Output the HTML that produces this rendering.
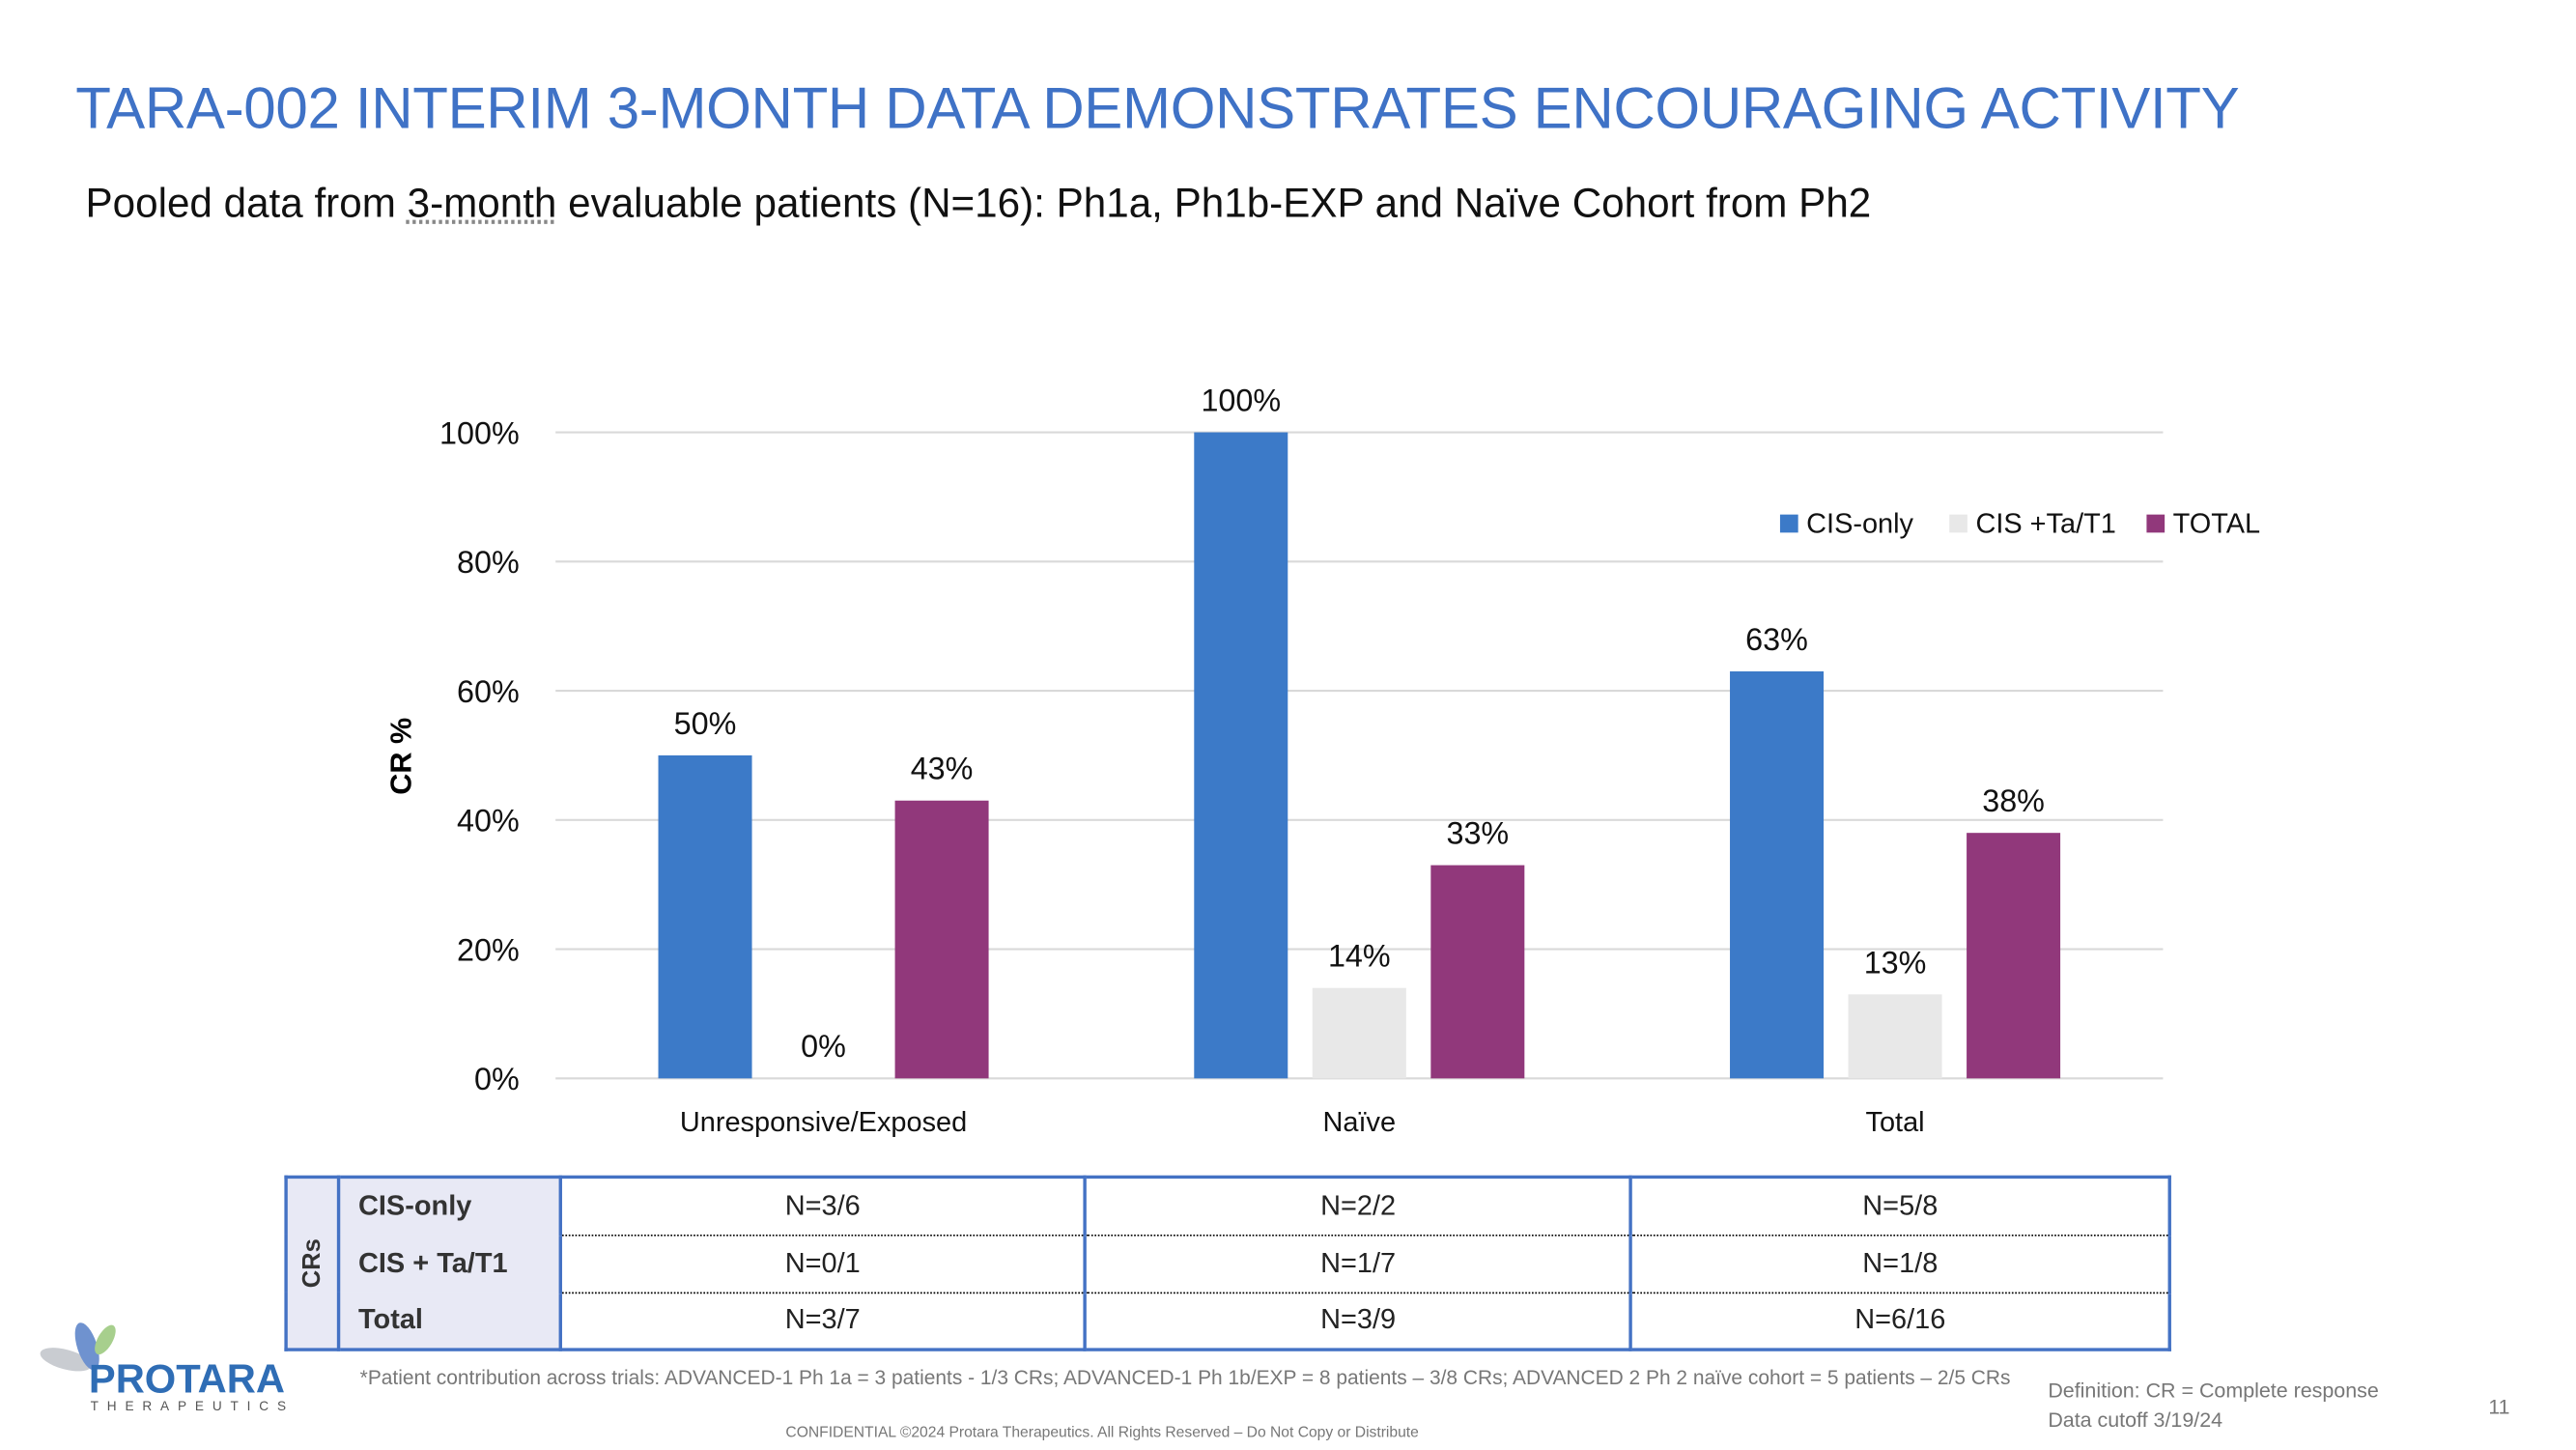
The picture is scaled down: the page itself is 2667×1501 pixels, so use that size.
<!DOCTYPE html>
<html><head><meta charset="utf-8">
<style>
html,body{margin:0;padding:0;background:#fff;}
body{width:2667px;height:1500px;overflow:hidden;position:relative;font-family:"Liberation Sans",sans-serif;}
#stage{position:absolute;left:0;top:0;width:1568px;height:882px;transform:scale(1.7017);transform-origin:0 0;}
.abs{position:absolute;white-space:nowrap;}
table{border-collapse:collapse;}
</style></head>
<body>
<div id="stage">
  <div class="abs" style="left:46px;top:47px;font-size:35.3px;color:#3f72c6;letter-spacing:-0.2px;">TARA-002 INTERIM 3-MONTH DATA DEMONSTRATES ENCOURAGING ACTIVITY</div>
  <div class="abs" style="left:52px;top:111px;font-size:24.8px;color:#111;">Pooled data from <span style="text-decoration:underline;text-decoration-style:dotted;text-decoration-color:#888;">3-month</span> evaluable patients (N=16): Ph1a, Ph1b-EXP and Naïve Cohort from Ph2</div>

  <svg id="chart" width="1568" height="882" style="position:absolute;left:0;top:0;" font-family="Liberation Sans, sans-serif"></svg>

  <table style="position:absolute;left:173px;top:715px;width:1148px;height:106px;font-size:17px;color:#222;">
    <colgroup><col style="width:30px"><col style="width:135px"><col style="width:321px"><col style="width:333px"><col style="width:329px"></colgroup>
    <tr style="height:35px">
      <td rowspan="3" style="background:#e8e9f5;border:2px solid #4472c4;padding:0;text-align:center;"><div style="transform:rotate(-90deg);font-weight:bold;font-size:15px;color:#333;">CRs</div></td>
      <td style="background:#e8e9f5;border-top:2px solid #4472c4;border-right:2px solid #4472c4;padding-left:11px;font-weight:bold;color:#333;">CIS-only</td>
      <td style="text-align:center;border-top:2px solid #4472c4;border-right:2px solid #4472c4;border-bottom:1px dotted #000;">N=3/6</td>
      <td style="text-align:center;border-top:2px solid #4472c4;border-right:2px solid #4472c4;border-bottom:1px dotted #000;">N=2/2</td>
      <td style="text-align:center;border-top:2px solid #4472c4;border-right:2px solid #4472c4;border-bottom:1px dotted #000;">N=5/8</td>
    </tr>
    <tr style="height:35px">
      <td style="background:#e8e9f5;border-right:2px solid #4472c4;padding-left:11px;font-weight:bold;color:#333;">CIS + Ta/T1</td>
      <td style="text-align:center;border-right:2px solid #4472c4;border-bottom:1px dotted #000;">N=0/1</td>
      <td style="text-align:center;border-right:2px solid #4472c4;border-bottom:1px dotted #000;">N=1/7</td>
      <td style="text-align:center;border-right:2px solid #4472c4;border-bottom:1px dotted #000;">N=1/8</td>
    </tr>
    <tr style="height:35px">
      <td style="background:#e8e9f5;border-right:2px solid #4472c4;border-bottom:2px solid #4472c4;padding-left:11px;font-weight:bold;color:#333;">Total</td>
      <td style="text-align:center;border-right:2px solid #4472c4;border-bottom:2px solid #4472c4;">N=3/7</td>
      <td style="text-align:center;border-right:2px solid #4472c4;border-bottom:2px solid #4472c4;">N=3/9</td>
      <td style="text-align:center;border-right:2px solid #4472c4;border-bottom:2px solid #4472c4;">N=6/16</td>
    </tr>
  </table>

  <div class="abs" style="left:219px;top:831px;font-size:12.3px;color:#777;">*Patient contribution across trials: ADVANCED-1 Ph 1a = 3 patients - 1/3 CRs; ADVANCED-1 Ph 1b/EXP = 8 patients – 3/8 CRs; ADVANCED 2 Ph 2 naïve cohort = 5 patients – 2/5 CRs</div>
  <div class="abs" style="left:1246px;top:839px;font-size:12.6px;color:#777;">Definition: CR = Complete response</div>
  <div class="abs" style="left:1246px;top:857px;font-size:12.6px;color:#777;">Data cutoff 3/19/24</div>
  <div class="abs" style="left:1514px;top:849px;font-size:12.5px;color:#777;">11</div>
  <div class="abs" style="left:478px;top:866px;font-size:9.2px;color:#777;">CONFIDENTIAL ©2024 Protara Therapeutics. All Rights Reserved – Do Not Copy or Distribute</div>

  <div style="position:absolute;left:22px;top:803px;width:160px;height:60px;">
    <svg width="60" height="38" style="position:absolute;left:0;top:0;">
      <ellipse cx="18" cy="24" rx="16" ry="6" fill="#c9ccd1" transform="rotate(15 18 24)"/>
      <ellipse cx="31" cy="16" rx="6" ry="15" fill="#6f92cf" transform="rotate(-18 31 16)"/>
      <ellipse cx="42" cy="12" rx="4.5" ry="10" fill="#a7cf8d" transform="rotate(30 42 12)"/>
    </svg>
    <div class="abs" style="left:32px;top:23px;font-size:24.5px;color:#2f6db5;font-weight:bold;">PROTARA</div>
    <div class="abs" style="left:33px;top:48px;font-size:8px;color:#555;letter-spacing:5.2px;">THERAPEUTICS</div>
  </div>
</div>

<script>
const categories = ["Unresponsive/Exposed", "Naïve", "Total"];
const seriesNames = ["CIS-only", "CIS +Ta/T1", "TOTAL"];
const cisOnly = [50, 100, 63];
const cisTaT1 = [0, 14, 13];
const totalSeries = [43, 33, 38];
const yTicks = [0, 20, 40, 60, 80, 100];

const NS = "http://www.w3.org/2000/svg";
const svg = document.getElementById("chart");
const colors = ["#3c7ac8", "#e8e8e8", "#91387b"];
const plotL = 338, plotR = 1316, y0 = 656, y100 = 263;
function yScale(v){ return y0 - (v/100)*(y0 - y100); }
const groupW = (plotR - plotL) / categories.length;
function xCenter(i){ return plotL + groupW*(i+0.5); }
const barW = 57, barStep = 72;

function mk(tag, attrs){ const e = document.createElementNS(NS, tag); for (const k in attrs) e.setAttribute(k, attrs[k]); svg.appendChild(e); return e; }

yTicks.forEach(t => {
  const g = mk("line", {x1: plotL, x2: plotR, y1: yScale(t), y2: yScale(t), stroke: "#d9d9d9", "stroke-width": 1.2});
  
  
  const l = mk("text", {x: 316, y: yScale(t) + 7, "text-anchor": "end", "font-size": 19, fill: "#111"});
  l.textContent = t + "%";
  
  
});

const yt = mk("text", {x: 250, y: 460, "text-anchor": "middle", "font-size": 18, "font-weight": "bold", fill: "#000", transform: "rotate(-90 250 460)"});
yt.textContent = "CR %";



const series = [cisOnly, cisTaT1, totalSeries];
series.forEach((vals, s) => {
  vals.forEach((v, i) => {
    const cx = xCenter(i) + (s - 1) * barStep;
    const r = mk("rect", {x: cx - barW/2, y: yScale(v), width: barW, height: y0 - yScale(v), fill: colors[s]});
    
    
    const t = mk("text", {x: cx, y: yScale(v) - 13, "text-anchor": "middle", "font-size": 19, fill: "#111"});
    t.textContent = v + "%";
    
    
  });
});

categories.forEach((c, i) => {
  const t = mk("text", {x: xCenter(i), y: 688, "text-anchor": "middle", "font-size": 17, fill: "#111"});
  t.textContent = c;
  
  
});

const legendX = [1083, 1186, 1306];
seriesNames.forEach((n, s) => {
  const r = mk("rect", {x: legendX[s], y: 313, width: 11, height: 11, fill: colors[s]});
  
  
  const t = mk("text", {x: legendX[s] + 16, y: 324, "font-size": 17, fill: "#111"});
  t.textContent = n;
  
  
});
</script>
</body></html>
